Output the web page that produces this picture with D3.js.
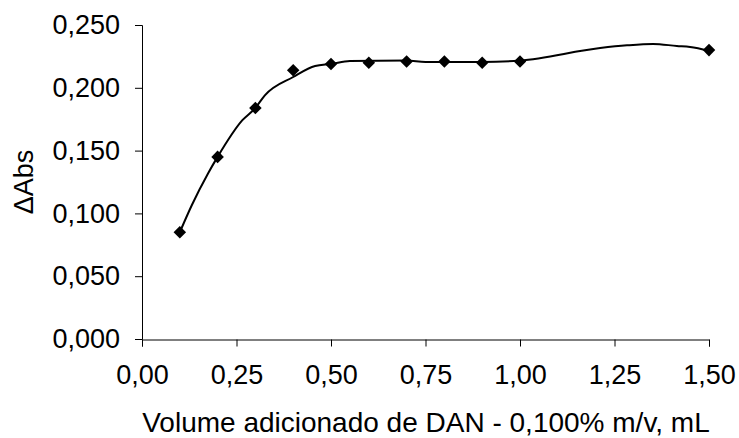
<!DOCTYPE html>
<html>
<head>
<meta charset="utf-8">
<script src="https://cdn.jsdelivr.net/npm/d3@7"></script>
<style>
  body { margin: 0; background: #fff; }
  text { font-family: "Liberation Sans", Arial, sans-serif; fill: #000; }
</style>
</head>
<body>
<script>
// measured points
const volumes = [0.1, 0.2, 0.3, 0.4, 0.5, 0.6, 0.7, 0.8, 0.9, 1.0, 1.5];
const deltaAbs = [0.085, 0.145, 0.184, 0.214, 0.219, 0.220, 0.221, 0.221, 0.220, 0.221, 0.230];

// smoothed curve as drawn in the figure
const curveX = [0.1, 0.132, 0.175, 0.2, 0.265, 0.3, 0.325, 0.4, 0.458, 0.5, 0.55, 0.7, 0.75, 0.9, 1.0, 1.212, 1.283, 1.352, 1.415, 1.45, 1.5];
const curveY = [0.085, 0.1067, 0.132, 0.145, 0.174, 0.184, 0.194, 0.2086, 0.2174, 0.219, 0.2213, 0.2217, 0.2205, 0.2205, 0.2217, 0.2317, 0.2338, 0.2349, 0.2333, 0.2325, 0.2295];

const xTicks = [0, 0.25, 0.5, 0.75, 1.0, 1.25, 1.5];
const yTicks = [0, 0.05, 0.1, 0.15, 0.2, 0.25];

const width = 739, height = 438;
const svg = d3.select("body")
  .append("svg")
  .attr("width", width)
  .attr("height", height);

const x = d3.scaleLinear().domain([0, 1.5]).range([142, 709]);
const y = d3.scaleLinear().domain([0, 0.25]).range([339, 25]);

const comma = d => d.toFixed(2).replace(".", ",");
const comma3 = d => d.toFixed(3).replace(".", ",");

// x axis
const xAxis = svg.append("g")
  .attr("transform", "translate(0,339.5)")
  .call(d3.axisBottom(x).tickValues(xTicks).tickFormat(comma).tickSize(7).tickPadding(18));
xAxis.selectAll("text").style("font-size", "27px");

// y axis
const yAxis = svg.append("g")
  .attr("transform", "translate(142,0)")
  .call(d3.axisLeft(y).tickValues(yTicks).tickFormat(comma3).tickSize(7).tickPadding(15));
yAxis.selectAll("text").style("font-size", "27px");

svg.selectAll(".domain").attr("stroke", "#000");
svg.selectAll(".tick line").attr("stroke", "#000");

// axis titles
svg.append("text")
  .attr("x", 426)
  .attr("y", 432)
  .attr("text-anchor", "middle")
  .style("font-size", "28px")
  .text("Volume adicionado de DAN - 0,100% m/v, mL");

svg.append("text")
  .attr("transform", "translate(33,182) rotate(-90)")
  .attr("text-anchor", "middle")
  .style("font-size", "27px")
  .text("ΔAbs");

// curve
const line = d3.line()
  .x((d, i) => x(curveX[i]))
  .y(d => y(d))
  .curve(d3.curveMonotoneX);

svg.append("path")
  .datum(curveY)
  .attr("d", line)
  .attr("fill", "none")
  .attr("stroke", "#000")
  .attr("stroke-width", 2);

// markers
svg.selectAll("path.pt")
  .data(deltaAbs)
  .enter()
  .append("path")
  .attr("class", "pt")
  .attr("d", d3.symbol().type(d3.symbolDiamond2).size(100))
  .attr("transform", (d, i) => `translate(${x(volumes[i])},${y(d)})`)
  .attr("fill", "#000");
</script>
</body>
</html>
